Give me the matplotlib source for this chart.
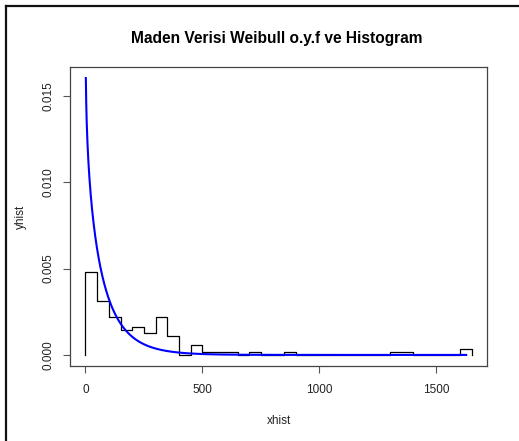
import numpy as np
import matplotlib
matplotlib.use("Agg")
import matplotlib.pyplot as plt
from matplotlib.lines import Line2D

plt.rcParams['font.family'] = ['Liberation Sans', 'DejaVu Sans']

# Histogram (density): bins of width 50 from 0 to 1650
bin_edges = list(range(0, 1651, 50))
densities = [0.0048, 0.0031, 0.0022, 0.00146, 0.00164, 0.00128, 0.0022, 0.00109,
             0.0, 0.00055, 0.00018, 0.00018, 0.00018, 0.0, 0.00018, 0.0, 0.0,
             0.00018, 0.0, 0.0, 0.0, 0.0, 0.0, 0.0, 0.0, 0.0, 0.00018, 0.00018,
             0.0, 0.0, 0.0, 0.0, 0.00036]

# xhist / yhist as in R: c(min(breaks), breaks), c(0, density, 0)
xhist = [bin_edges[0]] + bin_edges
yhist = [0.0] + densities + [0.0]

# Weibull density parameters (estimated from the curve)
weib_shape = 0.9
weib_scale = 80.0
curve_from = 1.7
curve_to = 1627.0

x_ticks = [0, 500, 1000, 1500]
y_ticks = [0.000, 0.005, 0.010, 0.015]
y_tick_labels = ["0.000", "0.005", "0.010", "0.015"]

title = "Maden Verisi Weibull o.y.f ve Histogram"

W, H = 519, 441
fig = plt.figure(figsize=(W / 100, H / 100), dpi=100)
ax = fig.add_axes([70 / W, 1 - 366 / H, (487 - 70) / W, (366 - 67) / H])

ax.step(xhist, yhist, where='post', color='black', linewidth=0.9)

xc = np.linspace(curve_from, curve_to, 3000)
yc = (weib_shape / weib_scale) * (xc / weib_scale) ** (weib_shape - 1) * np.exp(-(xc / weib_scale) ** weib_shape)
ax.plot(xc, yc, color='#0000FF', linewidth=1.5)

xmin, xmax = 0, 1650
ax.set_xlim(xmin - 0.04 * (xmax - xmin), xmax + 0.04 * (xmax - xmin))
ymax = yc.max()
ax.set_ylim(-0.04 * ymax, ymax * 1.04)

ax.set_xticks(x_ticks)
ax.set_xticklabels([str(t) for t in x_ticks], fontsize=8.5, color='#222222')
ax.set_yticks(y_ticks)
ax.set_yticklabels(y_tick_labels, fontsize=8.5, rotation=90, va='center', color='#222222')
ax.tick_params(axis='x', length=5, width=0.8, color='#555555', pad=8)
ax.tick_params(axis='y', length=5, width=0.8, color='#555555', pad=6)

for s in ax.spines.values():
    s.set_color('#444444')
    s.set_linewidth(0.9)

ax.set_xlabel('xhist', fontsize=8.5, color='#222222', labelpad=14)
ax.set_ylabel('yhist', fontsize=8.5, color='#222222', labelpad=11)

fig.text(277 / W, 1 - 38 / H, title, fontsize=11.2, fontweight='bold',
         ha='center', va='center', color='black')

# outer frame lines (left and top) of the screenshot
fig.add_artist(Line2D([6 / W, 6 / W], [0, 1 - 6 / H], transform=fig.transFigure,
                      color='#111111', linewidth=1.6))
fig.add_artist(Line2D([6 / W, 1], [1 - 6 / H, 1 - 6 / H], transform=fig.transFigure,
                      color='#111111', linewidth=1.6))

fig.savefig('out.png', dpi=100)
